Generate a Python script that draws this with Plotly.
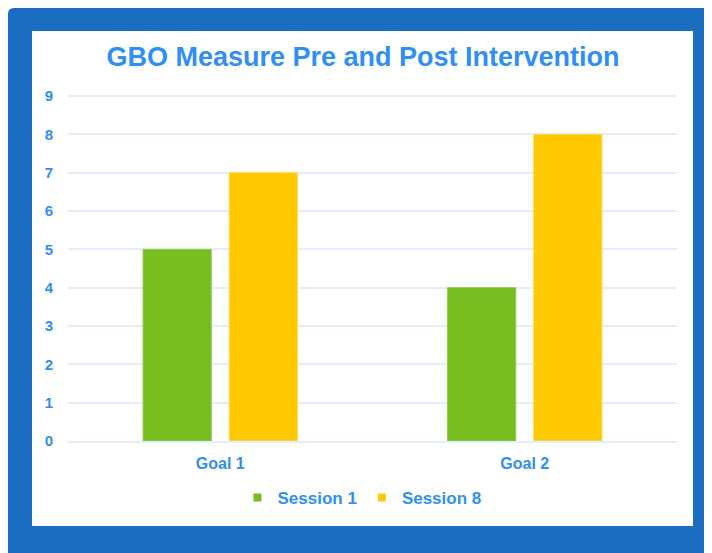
import plotly.graph_objects as go

categories = ["Goal 1", "Goal 2"]
series_names = ["Session 1", "Session 8"]
session1 = [5, 4]
session8 = [7, 8]
y_ticks = list(range(0, 10))

GREEN = "#78bd1f"
YELLOW = "#ffc900"
TEXT = "#2f8ff2"
GRID = "#e2eefb"
FRAME = "#1a6dc0"

OFF = 8  # page body margin
W, H = 712 - OFF, 553 - OFF
L, R, T, B = 68 - OFF, 35, 95 - OFF, 112
PW = W - L - R
PH = H - T - B


def px_x(p):
    # p is a page pixel x
    return (p - OFF - L) / PW


def px_y(p):
    return (H - B - (p - OFF)) / PH


fig = go.Figure()
fig.add_trace(go.Bar(x=categories, y=session1, name=series_names[0],
                     marker=dict(color=GREEN, line=dict(color="#8fcb45", width=1)), showlegend=False))
fig.add_trace(go.Bar(x=categories, y=session8, name=series_names[1],
                     marker=dict(color=YELLOW, line=dict(color="#ffd84a", width=1)), showlegend=False))
for nm, col in zip(series_names, [GREEN, YELLOW]):
    fig.add_trace(go.Scatter(x=[None], y=[None], mode="markers", name=nm,
                             marker=dict(symbol="square", size=8, color=col)))

r = 6
x0, x1, y0, y1 = OFF, 720, OFF, 560
path = (f"M{px_x(x0 + r)},{px_y(y0)} L{px_x(x1)},{px_y(y0)} L{px_x(x1)},{px_y(y1)} "
        f"L{px_x(x0)},{px_y(y1)} L{px_x(x0)},{px_y(y0 + r)} Q{px_x(x0)},{px_y(y0)} {px_x(x0 + r)},{px_y(y0)} Z")
shapes = [
    dict(type="path", xref="paper", yref="paper", path=path, fillcolor=FRAME, line=dict(width=0), layer="below"),
    dict(type="rect", xref="paper", yref="paper", x0=px_x(32), x1=px_x(693), y0=px_y(526), y1=px_y(31),
         fillcolor="white", line=dict(width=0), layer="below"),
]

fig.update_layout(
    width=W, height=H,
    margin=dict(l=L, r=R, t=T, b=B, autoexpand=False),
    paper_bgcolor="white", plot_bgcolor="rgba(0,0,0,0)",
    shapes=shapes,
    barmode="group", bargap=0.434, bargroupgap=0.209,
    title=dict(text="<b>GBO Measure Pre and Post Intervention</b>", x=(363 - OFF) / W, xanchor="center",
               y=1 - (57 - OFF) / H, yanchor="middle", yref="container",
               font=dict(family="Liberation Sans, Arial, sans-serif", size=27, color=TEXT)),
    font=dict(family="Liberation Sans, Arial, sans-serif", color=TEXT),
    xaxis=dict(showgrid=False, showline=True, linecolor=GRID, linewidth=1.5, ticks="",
               tickfont=dict(size=16, color=TEXT, weight="bold"), ticklabelstandoff=7),
    yaxis=dict(range=[0, 9.03], tickvals=y_ticks, showgrid=True, gridcolor=GRID, gridwidth=1.5,
               zeroline=False, showline=False, ticks="",
               tickfont=dict(size=15, color=TEXT, weight="bold"), ticklabelstandoff=14),
    legend=dict(orientation="h", x=px_x(362), xanchor="center", y=px_y(498), yanchor="middle",
                font=dict(size=17, color=TEXT, weight="bold"), itemwidth=30, tracegroupgap=0,
                bgcolor="rgba(0,0,0,0)"),
)

fig.write_html("out.html")
